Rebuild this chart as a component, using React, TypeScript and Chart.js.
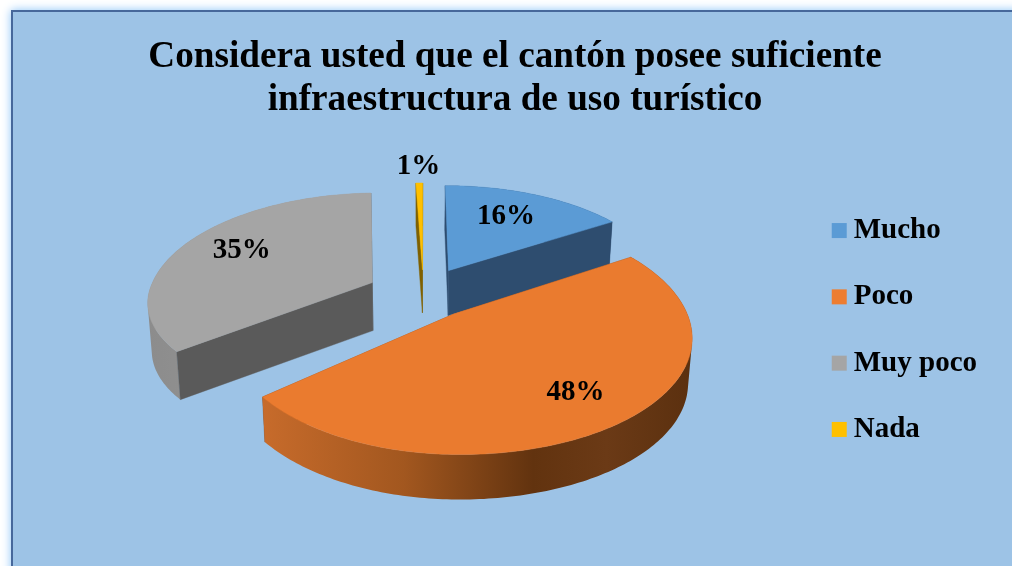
import React, { useEffect, useRef } from "react";
import { Chart, registerables } from "chart.js";

Chart.register(...registerables);

const titleLines = ["Considera usted que el cantón posee suficiente", "infraestructura de uso turístico"];
const categories = ["Mucho", "Poco", "Muy poco", "Nada"];
const shares = [16, 48, 35, 1];
const legendColors = ["#5B9BD5", "#ED7D31", "#A5A5A5", "#FFC000"];
const topColors = ["#5B9BD5", "#EA7B2F", "#A5A5A5", "#FFC000"];
const cutColors = ["#2E4D6F", "#8A4A1C", "#5A5A5A", "#7F6000"];
const rimStops: [number, string][][] = [
  [[0, "#2E4D6F"], [1, "#2E4D6F"]],
  [[0, "#C76B2B"], [0.33, "#A2571F"], [0.63, "#62330F"], [0.8, "#6B3A16"], [1, "#5B300F"]],
  [[0, "#8C8C8C"], [1, "#9E9E9E"]],
  [[0, "#BF9000"], [1, "#7F6000"]],
];
const paintOrder = [2, 3, 0, 1];
const labelRadius = [0.72, 0.72, 0.72, 1.28];
const labelNudge = [[-4, 2], [10, 4], [9, -4], [8, 3]];
// per-slice fit of the view: shift, horizontal scale left/right of the apex, vertical scale above/below it, wall height, angle trims
const fits = [
  { dx: 6, dy: -2, sxL: 1, sxR: 0.96, syU: 0.97, syD: 1, wall: 45, trimStart: 0, trimEnd: 0 },
  { dx: 4, dy: 1, sxL: 0.944, sxR: 0.984, syU: 1, syD: 0.99, wall: 45, trimStart: 0, trimEnd: 0 },
  { dx: -1, dy: -1, sxL: 0.97, sxR: 1, syU: 0.99, syD: 0.91, wall: 48, trimStart: 0, trimEnd: 0.021 },
  { dx: 5, dy: 0, sxL: 1, sxR: 1, syU: 1, syD: 1, wall: 43, trimStart: 0.027, trimEnd: 0 },
];

const FONT = '"Liberation Serif", "Times New Roman", serif';
const PAGE = "#9DC3E6";
const CX = 419, CY = 293, RX = 230, RY = 109.3, PERSP = 0.174, EXPLODE = 0.22, LEAN = 0.985;
const LEGEND_SHIFT = 29;

type Pt = [number, number];

const project = (u: number, v: number): Pt => {
  const s = 1 / (1 - PERSP * v);
  return [CX + RX * u * s, CY + RY * v * s];
};

const pie3d = {
  id: "pie3d",
  afterLayout(chart: any) {
    chart.legend.top += LEGEND_SHIFT;
    chart.legend.bottom += LEGEND_SHIFT;
  },
  beforeDraw(chart: any) {
    const { ctx, width, height } = chart;
    ctx.save();
    ctx.fillStyle = "#FFFFFF";
    ctx.fillRect(0, 0, width, height);
    ctx.shadowColor = "#8CC4F8";
    ctx.shadowBlur = 9;
    ctx.fillStyle = PAGE;
    ctx.fillRect(11, 10, width + 40, height + 40);
    ctx.shadowBlur = 0;
    ctx.fillStyle = "#47689B";
    ctx.fillRect(11, 10, width, 2);
    ctx.fillRect(11, 10, 2, height);
    ctx.restore();
  },
  beforeDatasetsDraw(chart: any) {
    const { ctx } = chart;
    const arcs = chart.getDatasetMeta(0).data;
    const paint = (rings: Pt[][], style: any, lw: number) => {
      ctx.fillStyle = style;
      ctx.strokeStyle = style;
      ctx.lineWidth = lw;
      ctx.beginPath();
      for (const ring of rings) {
        ring.forEach((p, k) => (k ? ctx.lineTo(p[0], p[1]) : ctx.moveTo(p[0], p[1])));
        ctx.closePath();
      }
      ctx.fill();
      if (lw > 0) ctx.stroke();
    };
    ctx.save();
    ctx.lineJoin = "round";
    for (const i of paintOrder) {
      const arc = arcs[i];
      const f = fits[i];
      const mid = (arc.startAngle + arc.endAngle) / 2;
      const a0 = arc.startAngle + f.trimStart, a1 = arc.endAngle + f.trimEnd;
      const ou = EXPLODE * Math.cos(mid), ov = EXPLODE * Math.sin(mid);
      const apex = project(ou, ov);
      const fit = (p: Pt): Pt => {
        const ddx = p[0] - apex[0], ddy = p[1] - apex[1];
        return [
          apex[0] + f.dx + ddx * (ddx < 0 ? f.sxL : f.sxR),
          apex[1] + f.dy + ddy * (ddy > 0 ? f.syD : f.syU),
        ];
      };
      const rimPts: Pt[] = [];
      const steps = Math.max(4, Math.round((a1 - a0) * 60));
      for (let k = 0; k <= steps; k++) {
        const a = a0 + ((a1 - a0) * k) / steps;
        rimPts.push(fit(project(ou + Math.cos(a), ov + Math.sin(a))));
      }
      const tip = fit(apex);
      const drop = (p: Pt): Pt => [CX + (p[0] - CX) * LEAN, p[1] + f.wall];
      const xs = rimPts.map((p) => p[0]).concat(tip[0]);
      const rim = ctx.createLinearGradient(Math.min(...xs), 0, Math.max(...xs), 0);
      rimStops[i].forEach(([o, c]) => rim.addColorStop(o, c));
      const cuts: [Pt, Pt][] = [[tip, rimPts[0]], [rimPts[rimPts.length - 1], tip]];
      const quad = (e: [Pt, Pt]) => paint([[e[0], e[1], drop(e[1]), drop(e[0])]], cutColors[i], 0.4);
      cuts.filter((e) => e[1][0] >= e[0][0]).forEach(quad);
      // the curved wall: every strip wound the same way so that the non-zero fill has no holes or seams
      const strips: Pt[][] = [];
      for (let k = 0; k < rimPts.length - 1; k++) {
        const a = rimPts[k], b = rimPts[k + 1], c = drop(b), d = drop(a);
        const area = (b[0] - a[0]) * (c[1] - a[1]) - (c[0] - a[0]) * (b[1] - a[1]);
        strips.push(area >= 0 ? [a, b, c, d] : [d, c, b, a]);
      }
      paint(strips, rim, 0);
      cuts.filter((e) => e[1][0] < e[0][0]).forEach(quad);
      paint([[tip, ...rimPts]], topColors[i], 0.5);
    }
    ctx.fillStyle = "#000000";
    ctx.font = `bold 29px ${FONT}`;
    ctx.textAlign = "center";
    ctx.textBaseline = "middle";
    shares.forEach((v, i) => {
      const arc = arcs[i];
      const mid = (arc.startAngle + arc.endAngle) / 2;
      const r = EXPLODE + labelRadius[i];
      const [x, y] = project(r * Math.cos(mid), r * Math.sin(mid));
      ctx.fillText(`${v}%`, x + labelNudge[i][0], y + labelNudge[i][1]);
    });
    ctx.restore();
    return false;
  },
};

export default function App() {
  const ref = useRef<HTMLCanvasElement>(null);
  useEffect(() => {
    document.body.style.margin = "0";
    const chart = new Chart(ref.current!, {
      type: "pie",
      data: {
        labels: categories,
        datasets: [{ data: shares, backgroundColor: legendColors, borderWidth: 0 }],
      },
      options: {
        animation: false,
        responsive: false,
        layout: { padding: { left: 43, right: 25, top: 36, bottom: 0 } },
        plugins: {
          title: {
            display: true,
            text: titleLines,
            color: "#000000",
            font: { family: FONT, size: 37.2, weight: "bold", lineHeight: 1.15 },
            padding: { top: 0, bottom: 70 },
          },
          legend: {
            position: "right",
            labels: {
              color: "#000000",
              font: { family: FONT, size: 29, weight: "bold" },
              usePointStyle: true,
              pointStyle: "rect",
              boxWidth: 0.01,
              boxHeight: 15,
              padding: 37.3,
            },
          },
          tooltip: { enabled: false },
        },
      },
      plugins: [pie3d],
    } as any);
    return () => chart.destroy();
  }, []);
  return <canvas ref={ref} width={1012} height={566} style={{ display: "block", width: 1012, height: 566 }} />;
}
